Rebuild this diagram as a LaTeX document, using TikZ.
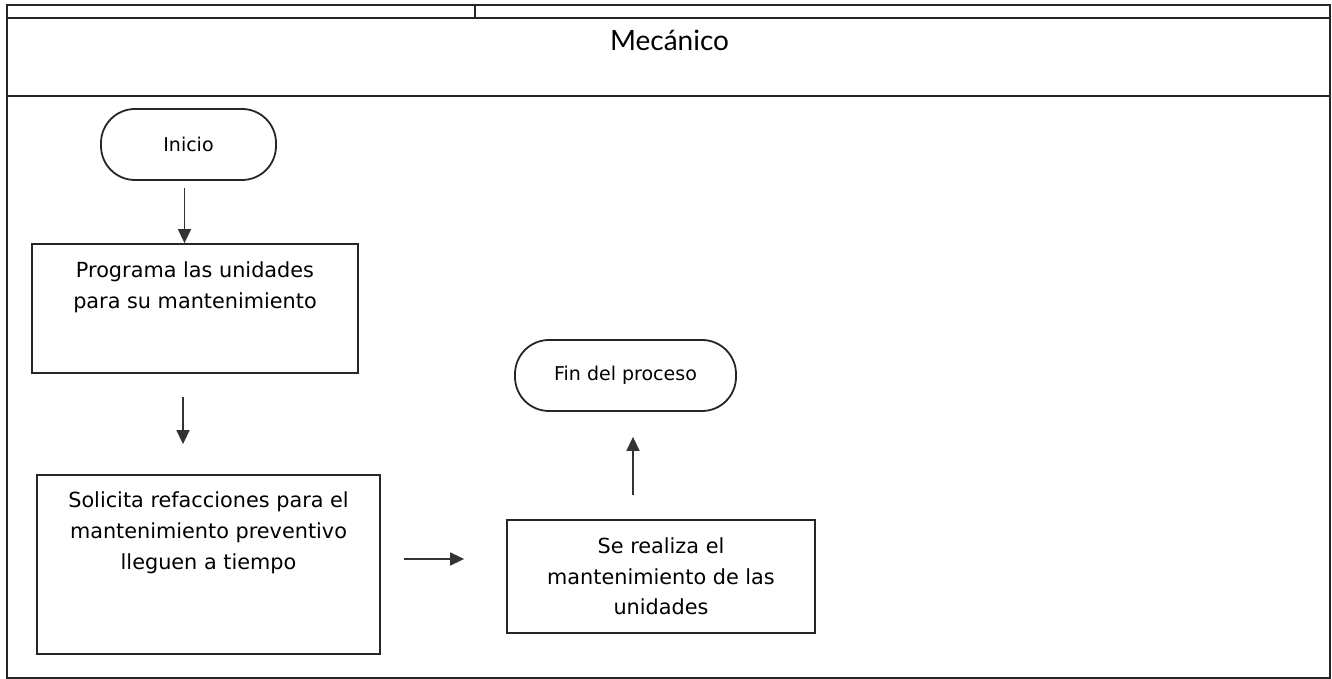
\documentclass[tikz,border=0pt]{standalone}
\usepackage{fontspec}
\setmainfont{DejaVu Sans}
\newfontfamily\headfont{Lato}
\usetikzlibrary{arrows.meta}

\tikzset{
  lane/.style={line width=0.9pt,black!85},
  terminal/.style={draw=black!85,line width=0.9pt,rounded corners=17pt,inner sep=0pt,font=\fontsize{9.5}{12}\selectfont},
  taskbox/.style={draw=black!85,line width=0.9pt,inner sep=0pt},
  tasktext/.style={inner sep=0pt,align=center,font=\fontsize{10.4}{15.3}\selectfont},
  flow/.style={->,>={Triangle[length=7pt,width=6.5pt]},thick,black!80}
}

\begin{document}
\begin{tikzpicture}[x=0.5pt,y=0.5pt]
    \useasboundingbox (0,0) rectangle (1332,679);

    \draw[lane] (7,1) rectangle (1330,674); %marco
    \draw[lane] (7,661)--(1330,661);
    \draw[lane] (7,583)--(1330,583);
    \draw[lane] (475,661)--(475,674);
    \node[font=\headfont\fontsize{14}{16}\selectfont] (carril) at (669.5,639) {Mecánico};

    \node[terminal,minimum width=87.5pt,minimum height=35.5pt] (inicio) at (188.5,534.5) {Inicio};
    \node[taskbox,minimum width=163pt,minimum height=64.5pt] (prog) at (195,370.5) {};
    \node[tasktext,anchor=north] (progtxt) at ([yshift=-9.3pt]prog.north) {Programa las unidades\\para su mantenimiento};
    \node[taskbox,minimum width=171.5pt,minimum height=89.5pt] (solic) at (208.5,114.5) {};
    \node[tasktext,anchor=north] (solictxt) at ([yshift=-8.8pt]solic.north) {Solicita refacciones para el\\mantenimiento preventivo\\lleguen a tiempo};
    \node[taskbox,tasktext,minimum width=154pt,minimum height=56.5pt] (proc) at (661,102.5) {Se realiza el\\mantenimiento de las\\unidades};
    \node[terminal,minimum width=110.5pt,minimum height=35.5pt] (fin) at (625.5,303.5) {Fin del proceso};

    \draw[flow,shorten <=3.5pt] ([xshift=-2pt]inicio.south)--([xshift=-2pt]inicio.south |- prog.north);
    \draw[flow,shorten <=11.5pt,shorten >=15pt] ([xshift=-6pt]prog.south)--([xshift=-6pt]prog.south |- solic.north);
    \draw[flow,shorten <=11.5pt,shorten >=21pt] ([yshift=2.75pt]solic.east)--([yshift=2.75pt]solic.east -| proc.west);
    \draw[flow,shorten <=12pt,shorten >=12.5pt] ([xshift=-14pt]proc.north)--([xshift=-14pt]proc.north |- fin.south);
\end{tikzpicture}
\end{document}
